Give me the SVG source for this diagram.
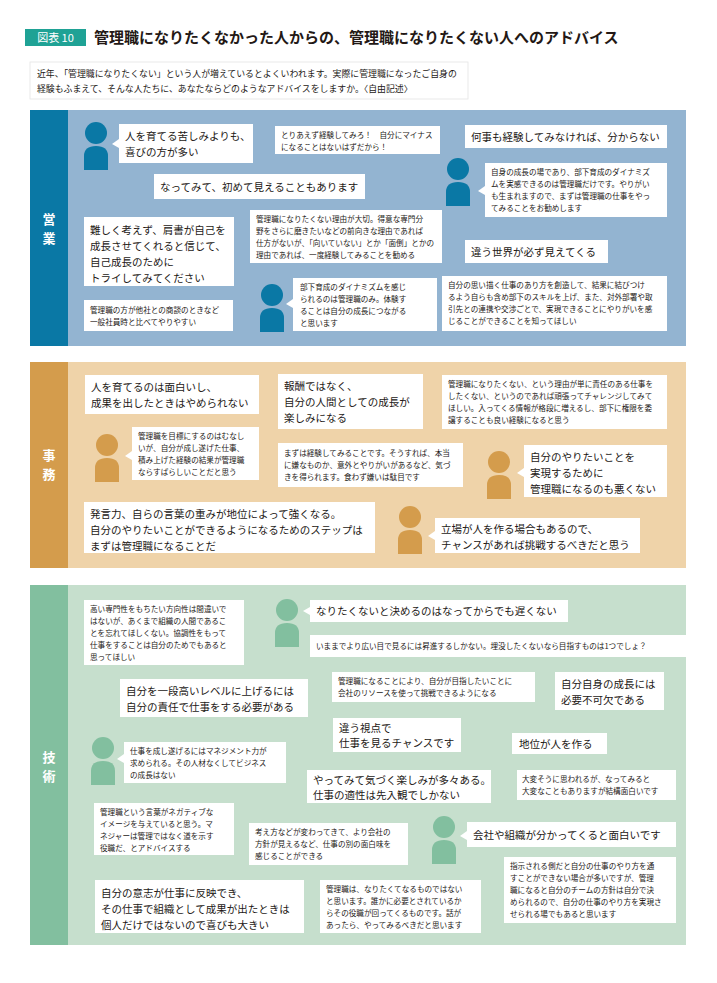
<svg xmlns="http://www.w3.org/2000/svg" width="717" height="983" viewBox="0 0 717 983">
<style>
text{font-family:"Noto Sans CJK JP","Noto Sans",sans-serif;fill:#231815}
.b{font-size:10.5px}
.s{font-size:7.6px}
.t{font-size:15px;font-weight:bold}
.lab{font-size:13px;font-weight:bold;fill:#fff;text-anchor:middle}
.box{fill:#fff}
.i1{fill:#0a78a5}.i2{fill:#d49c4c}.i3{fill:#82bf9f}
</style>
<defs>
<symbol id="person" viewBox="0 0 24 48" width="24" height="48"><circle cx="12" cy="11" r="11"/><path d="M0 48V34Q0 24 12 24Q24 24 24 34V48Z"/></symbol>
</defs>
<rect width="717" height="983" fill="#fff"/>
<g id="header">
<rect x="25" y="29" width="61" height="17" fill="#1fa295"/>
<text x="55.5" y="42" style="font-size:11px;fill:#fff" text-anchor="middle">図表 10</text>
<text class="t" x="94" y="43">管理職になりたくなかった人からの、管理職になりたくない人へのアドバイス</text>
</g>
<g id="intro">
<rect x="30" y="62" width="438" height="37" fill="#fff" stroke="#e4e4e4" stroke-width="0.8"/>
<text x="37" y="77" style="font-size:8.9px">近年、「管理職になりたくない」という人が増えているとよくいわれます。実際に管理職になったご自身の</text>
<text x="37" y="92" style="font-size:8.9px">経験もふまえて、そんな人たちに、あなたならどのようなアドバイスをしますか。〈自由記述〉</text>
</g>
<g id="panels">
<rect x="30" y="110" width="656" height="236" fill="#93b4d1"/>
<rect x="30" y="110" width="38" height="236" fill="#0a78a5"/>
<text class="lab" x="49" y="224">営</text><text class="lab" x="49" y="243">業</text>
<rect x="30" y="362" width="656" height="206" fill="#efd3a9"/>
<rect x="30" y="362" width="38" height="206" fill="#d49c4c"/>
<text class="lab" x="49" y="460">事</text><text class="lab" x="49" y="479">務</text>
<rect x="30" y="585" width="656" height="360" fill="#c6dfcd"/>
<rect x="30" y="585" width="38" height="360" fill="#82bf9f"/>
<text class="lab" x="49" y="762">技</text><text class="lab" x="49" y="781">術</text>
</g>
<g id="connectors">
<polygon class="box" points="119,139 112,144 119,148"/>
<polygon class="box" points="485,186 478,191 485,195"/>
<polygon class="box" points="293,299 286,304 293,308"/>
<polygon class="box" points="132,451 125,456 132,460"/>
<polygon class="box" points="524,468 517,473 524,477"/>
<polygon class="box" points="435,531 428,536 435,540"/>
<polygon class="box" points="310,607 303,611 310,615"/>
<polygon class="box" points="124,754 117,759 124,763"/>
<polygon class="box" points="467,831 460,836 467,840"/>
</g>
<g id="icons">
<use href="#person" class="i1" x="84" y="122"/>
<use href="#person" class="i1" x="446" y="158"/>
<use href="#person" class="i1" x="260" y="284"/>
<use href="#person" class="i2" x="95" y="434"/>
<use href="#person" class="i2" x="487" y="451"/>
<use href="#person" class="i2" x="398" y="506"/>
<use href="#person" class="i3" x="275" y="599"/>
<use href="#person" class="i3" x="91" y="737"/>
<use href="#person" class="i3" x="432" y="816"/>
</g>
<g id="sales">
<g id="b1"><rect class="box" x="119" y="124" width="134" height="39"/><text class="b" x="125" y="140">人を育てる苦しみよりも、</text><text class="b" x="125" y="156">喜びの方が多い</text></g>
<g id="b2"><rect class="box" x="275" y="126" width="165" height="28"/><text class="s" x="281" y="138">とりあえず経験してみろ！　自分にマイナス</text><text class="s" x="281" y="150">になることはないはずだから！</text></g>
<g id="b3"><rect class="box" x="154" y="174" width="211" height="25"/><text class="b" x="160" y="191">なってみて、初めて見えることもあります</text></g>
<g id="b4"><rect class="box" x="84" y="217" width="150" height="69"/><text class="b" x="90" y="234">難しく考えず、肩書が自己を</text><text class="b" x="90" y="250">成長させてくれると信じて、</text><text class="b" x="90" y="266">自己成長のために</text><text class="b" x="90" y="282">トライしてみてください</text></g>
<g id="b5"><rect class="box" x="250" y="210" width="192" height="53"/><text class="s" x="256" y="222">管理職になりたくない理由が大切。得意な専門分</text><text class="s" x="256" y="234">野をさらに磨きたいなどの前向きな理由であれば</text><text class="s" x="256" y="246">仕方がないが、「向いていない」とか「面倒」とかの</text><text class="s" x="256" y="258">理由であれば、一度経験してみることを勧める</text></g>
<g id="b6"><rect class="box" x="84" y="300" width="149" height="31"/><text class="s" x="90" y="313">管理職の方が他社との商談のときなど</text><text class="s" x="90" y="325">一般社員時と比べてやりやすい</text></g>
<g id="b7"><rect class="box" x="293" y="278" width="144" height="53"/><text class="s" x="300" y="290">部下育成のダイナミズムを感じ</text><text class="s" x="300" y="302">られるのは管理職のみ。体験す</text><text class="s" x="300" y="314">ることは自分の成長につながる</text><text class="s" x="300" y="326">と思います</text></g>
<g id="b8"><rect class="box" x="465" y="125" width="202" height="23"/><text class="b" x="471" y="141">何事も経験してみなければ、分からない</text></g>
<g id="b9"><rect class="box" x="485" y="163" width="182" height="54"/><text class="s" x="491" y="175">自身の成長の場であり、部下育成のダイナミズ</text><text class="s" x="491" y="187">ムを実感できるのは管理職だけです。やりがい</text><text class="s" x="491" y="199">も生まれますので、まずは管理職の仕事をやっ</text><text class="s" x="491" y="211">てみることをお勧めします</text></g>
<g id="b10"><rect class="box" x="465" y="240" width="143" height="23"/><text class="b" x="471" y="256">違う世界が必ず見えてくる</text></g>
<g id="b11"><rect class="box" x="442" y="276" width="225" height="55"/><text class="s" x="448" y="288">自分の思い描く仕事のあり方を創造して、結果に結びつけ</text><text class="s" x="448" y="300">るよう自らも含め部下のスキルを上げ、また、対外部署や取</text><text class="s" x="448" y="312">引先との連携や交渉ごとで、実現できることにやりがいを感</text><text class="s" x="448" y="324">じることができることを知ってほしい</text></g>
</g>
<g id="office">
<g id="c1"><rect class="box" x="85" y="375" width="174" height="39"/><text class="b" x="91" y="391">人を育てるのは面白いし、</text><text class="b" x="91" y="407">成果を出したときはやめられない</text></g>
<g id="c2"><rect class="box" x="278" y="374" width="145" height="55"/><text class="b" x="284" y="390">報酬ではなく、</text><text class="b" x="284" y="406">自分の人間としての成長が</text><text class="b" x="284" y="422">楽しみになる</text></g>
<g id="c3"><rect class="box" x="132" y="427" width="127" height="53"/><text class="s" x="138" y="439">管理職を目標にするのはむなし</text><text class="s" x="138" y="451">いが、自分が成し遂げた仕事、</text><text class="s" x="138" y="463">積み上げた経験の結果が管理職</text><text class="s" x="138" y="475">ならすばらしいことだと思う</text></g>
<g id="c4"><rect class="box" x="278" y="443" width="185" height="44"/><text class="s" x="284" y="456">まずは経験してみることです。そうすれば、本当</text><text class="s" x="284" y="468">に嫌なものか、意外とやりがいがあるなど、気づ</text><text class="s" x="284" y="480">きを得られます。食わず嫌いは駄目です</text></g>
<g id="c5"><rect class="box" x="442" y="375" width="225" height="54"/><text class="s" x="448" y="387">管理職になりたくない、という理由が単に責任のある仕事を</text><text class="s" x="448" y="399">したくない、というのであれば頑張ってチャレンジしてみて</text><text class="s" x="448" y="411">ほしい。入ってくる情報が格段に増えるし、部下に権限を委</text><text class="s" x="448" y="423">譲することも良い経験になると思う</text></g>
<g id="c6"><rect class="box" x="524" y="445" width="143" height="52"/><text class="b" x="530" y="461">自分のやりたいことを</text><text class="b" x="530" y="477">実現するために</text><text class="b" x="530" y="493">管理職になるのも悪くない</text></g>
<g id="c7"><rect class="box" x="84" y="502" width="291" height="51"/><text class="b" x="90" y="518">発言力、自らの言葉の重みが地位によって強くなる。</text><text class="b" x="90" y="534">自分のやりたいことができるようになるためのステップは</text><text class="b" x="90" y="550">まずは管理職になることだ</text></g>
<g id="c8"><rect class="box" x="435" y="518" width="205" height="35"/><text class="b" x="441" y="533">立場が人を作る場合もあるので、</text><text class="b" x="441" y="549">チャンスがあれば挑戦するべきだと思う</text></g>
</g>
<g id="tech">
<g id="d1"><rect class="box" x="84" y="600" width="160" height="65"/><text class="s" x="90" y="612">高い専門性をもちたい方向性は間違いで</text><text class="s" x="90" y="624">はないが、あくまで組織の人間であるこ</text><text class="s" x="90" y="636">とを忘れてほしくない。協調性をもって</text><text class="s" x="90" y="648">仕事をすることは自分のためでもあると</text><text class="s" x="90" y="660">思ってほしい</text></g>
<g id="d2"><rect class="box" x="310" y="600" width="258" height="22"/><text class="b" x="316" y="615">なりたくないと決めるのはなってからでも遅くない</text></g>
<g id="d3"><rect class="box" x="310" y="635" width="380" height="22"/><text class="s" x="316" y="649">いままでより広い目で見るには昇進するしかない。埋没したくないなら目指すものは1つでしょ？</text></g>
<g id="d4"><rect class="box" x="332" y="672" width="203" height="30"/><text class="s" x="338" y="684">管理職になることにより、自分が目指したいことに</text><text class="s" x="338" y="696">会社のリソースを使って挑戦できるようになる</text></g>
<g id="d5"><rect class="box" x="555" y="672" width="109" height="38"/><text class="b" x="561" y="688">自分自身の成長には</text><text class="b" x="561" y="704">必要不可欠である</text></g>
<g id="d6"><rect class="box" x="120" y="679" width="188" height="38"/><text class="b" x="126" y="695">自分を一段高いレベルに上げるには</text><text class="b" x="126" y="711">自分の責任で仕事をする必要がある</text></g>
<g id="d7"><rect class="box" x="333" y="718" width="128" height="34"/><text class="b" x="339" y="732">違う視点で</text><text class="b" x="339" y="747">仕事を見るチャンスです</text></g>
<g id="d8"><rect class="box" x="512" y="733" width="95" height="21"/><text class="b" x="519" y="748">地位が人を作る</text></g>
<g id="d9"><rect class="box" x="124" y="742" width="162" height="41"/><text class="s" x="130" y="754">仕事を成し遂げるにはマネジメント力が</text><text class="s" x="130" y="766">求められる。その人材なくしてビジネス</text><text class="s" x="130" y="778">の成長はない</text></g>
<g id="d10"><rect class="box" x="307" y="770" width="184" height="33"/><text class="b" x="313" y="784">やってみて気づく楽しみが多々ある。</text><text class="b" x="313" y="799">仕事の適性は先入観でしかない</text></g>
<g id="d11"><rect class="box" x="517" y="770" width="159" height="30"/><text class="s" x="522" y="782">大変そうに思われるが、なってみると</text><text class="s" x="522" y="794">大変なこともありますが結構面白いです</text></g>
<g id="d12"><rect class="box" x="94" y="803" width="140" height="52"/><text class="s" x="100" y="815">管理職という言葉がネガティブな</text><text class="s" x="100" y="827">イメージを与えていると思う。マ</text><text class="s" x="100" y="839">ネジャーは管理ではなく道を示す</text><text class="s" x="100" y="851">役職だ、とアドバイスする</text></g>
<g id="d13"><rect class="box" x="249" y="823" width="159" height="42"/><text class="s" x="255" y="835">考え方などが変わってきて、より会社の</text><text class="s" x="255" y="847">方針が見えるなど、仕事の別の面白味を</text><text class="s" x="255" y="859">感じることができる</text></g>
<g id="d14"><rect class="box" x="467" y="822" width="209" height="25"/><text class="b" x="473" y="839">会社や組織が分かってくると面白いです</text></g>
<g id="d15"><rect class="box" x="504" y="857" width="172" height="66"/><text class="s" x="510" y="869">指示される側だと自分の仕事のやり方を通</text><text class="s" x="510" y="881">すことができない場合が多いですが、管理</text><text class="s" x="510" y="893">職になると自分のチームの方針は自分で決</text><text class="s" x="510" y="905">められるので、自分の仕事のやり方を実現さ</text><text class="s" x="510" y="917">せられる場でもあると思います</text></g>
<g id="d16"><rect class="box" x="95" y="880" width="209" height="53"/><text class="b" x="101" y="897">自分の意志が仕事に反映でき、</text><text class="b" x="101" y="913">その仕事で組織として成果が出たときは</text><text class="b" x="101" y="929">個人だけではないので喜びも大きい</text></g>
<g id="d17"><rect class="box" x="320" y="880" width="161" height="53"/><text class="s" x="326" y="892">管理職は、なりたくてなるものではない</text><text class="s" x="326" y="904">と思います。誰かに必要とされているか</text><text class="s" x="326" y="916">らその役職が回ってくるものです。話が</text><text class="s" x="326" y="928">あったら、やってみるべきだと思います</text></g>
</g>
</svg>
